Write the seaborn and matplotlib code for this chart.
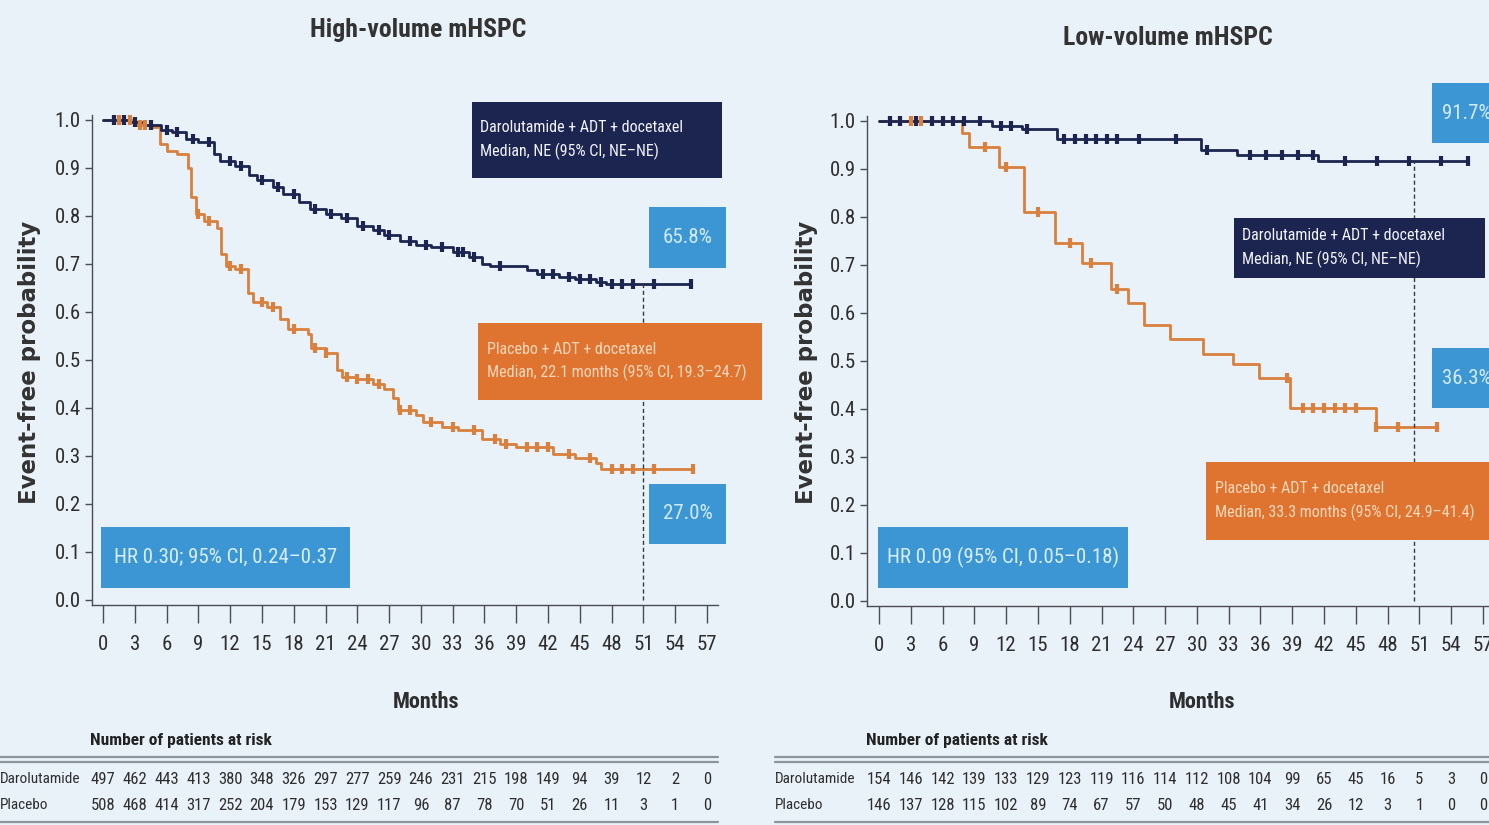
import numpy as np
import pandas as pd
import matplotlib
matplotlib.use("Agg")
import matplotlib.pyplot as plt
import seaborn as sns
from matplotlib import font_manager
from matplotlib.transforms import blended_transform_factory
from matplotlib.patches import Rectangle
from matplotlib.lines import Line2D

# ---------------- data ----------------
month_ticks = list(range(0, 58, 3))
y_ticks = [0.0, 0.1, 0.2, 0.3, 0.4, 0.5, 0.6, 0.7, 0.8, 0.9, 1.0]

panel_titles = ["High-volume mHSPC", "Low-volume mHSPC"]

hv_dar_t = [0, 2.5, 4.0, 5.5, 6.5, 7.8, 9.0, 10.5, 11.0, 12.5, 13.8, 14.5, 16.0, 17.0, 18.5,
            19.5, 21.0, 22.5, 24.0, 25.5, 26.5, 28.0, 29.5, 31.0, 33.0, 34.5, 35.8, 36.5,
            40.0, 41.0, 43.0, 44.5, 46.5, 47.5, 55.5]
hv_dar_s = [1.0, 0.995, 0.99, 0.98, 0.975, 0.96, 0.955, 0.93, 0.915, 0.905, 0.885, 0.875, 0.86,
            0.845, 0.83, 0.815, 0.805, 0.795, 0.78, 0.77, 0.76, 0.748, 0.74, 0.735, 0.725, 0.715,
            0.70, 0.695, 0.688, 0.68, 0.672, 0.668, 0.662, 0.658, 0.658]
hv_dar_cens = [1, 2, 3, 4.5, 6, 7, 8.5, 10, 12, 13, 15, 16.5, 18, 20, 21.5, 23, 24.5, 26, 27, 29,
               30.5, 32, 33.5, 34, 35, 37.5, 41.5, 42.5, 44, 45, 46, 47, 48, 49, 50, 52, 55.5]

hv_pbo_t = [0, 3.0, 4.5, 5.4, 6.0, 7.0, 8.0, 8.3, 8.8, 9.5, 10.8, 11.1, 11.6, 12.5, 13.7, 14.2,
            15.5, 16.7, 17.5, 19.3, 19.6, 21.0, 22.1, 22.6, 24.0, 25.5, 26.5, 27.4, 27.8, 29.5,
            30.2, 32.0, 33.5, 35.8, 37.5, 39.0, 42.5, 44.5, 46.5, 47.0, 55.7]
hv_pbo_s = [1.0, 0.99, 0.985, 0.95, 0.935, 0.93, 0.90, 0.84, 0.805, 0.79, 0.775, 0.72, 0.695,
            0.69, 0.64, 0.62, 0.61, 0.585, 0.565, 0.555, 0.525, 0.515, 0.48, 0.465, 0.46, 0.45,
            0.44, 0.42, 0.395, 0.385, 0.37, 0.36, 0.355, 0.335, 0.325, 0.318, 0.305, 0.295,
            0.285, 0.272, 0.272]
hv_pbo_cens = [1, 1.5, 2, 2.5, 3.5, 4, 9, 10, 12, 13, 15, 16, 18, 20, 21, 23, 24, 25, 26, 28, 29,
               31, 33, 35, 37, 38, 40, 41, 42, 44, 46, 48, 49, 50, 52, 55.7]

lv_dar_t = [0, 10.7, 13.5, 16.8, 30.4, 33.8, 41.4, 55.6]
lv_dar_s = [1.0, 0.99, 0.983, 0.962, 0.94, 0.93, 0.917, 0.917]
lv_dar_cens = [1, 2, 3.5, 5, 6, 7, 8, 9.5, 11.5, 12.5, 14, 17.5, 18.5, 19.5, 20.5, 21.5, 22.5,
               24.5, 28, 31, 35, 36.5, 38, 39.5, 41, 44, 47, 50, 53, 55.6]

lv_pbo_t = [0, 7.8, 8.5, 11.3, 13.7, 16.6, 19.2, 21.9, 23.5, 25.0, 27.5, 30.6, 33.4, 35.9,
            38.8, 46.9, 52.7]
lv_pbo_s = [1.0, 0.975, 0.945, 0.905, 0.81, 0.745, 0.705, 0.65, 0.62, 0.575, 0.545, 0.514,
            0.493, 0.465, 0.403, 0.363, 0.363]
lv_pbo_cens = [1, 2, 3, 4, 5, 6, 7, 10, 12, 15, 18, 20, 22.5, 38.5, 40, 41, 42, 43, 44, 45,
               46.9, 49, 52.7]

landmark_month = [51, 50.5]

hv_risk_dar = [497, 462, 443, 413, 380, 348, 326, 297, 277, 259, 246, 231, 215, 198, 149, 94, 39, 12, 2, 0]
hv_risk_pbo = [508, 468, 414, 317, 252, 204, 179, 153, 129, 117, 96, 87, 78, 70, 51, 26, 11, 3, 1, 0]
lv_risk_dar = [154, 146, 142, 139, 133, 129, 123, 119, 116, 114, 112, 108, 104, 99, 65, 45, 16, 5, 3, 0]
lv_risk_pbo = [146, 137, 128, 115, 102, 89, 74, 67, 57, 50, 48, 45, 41, 34, 26, 12, 3, 1, 0, 0]
risk_rows = ["Darolutamide", "Placebo"]

dar_label = "Darolutamide + ADT + docetaxel\nMedian, NE (95% CI, NE\u2013NE)"
hv_pbo_label = "Placebo + ADT + docetaxel\nMedian, 22.1 months (95% CI, 19.3\u201324.7)"
lv_pbo_label = "Placebo + ADT + docetaxel\nMedian, 33.3 months (95% CI, 24.9\u201341.4)"
hv_hr = "HR 0.30; 95% CI, 0.24\u20130.37"
lv_hr = "HR 0.09 (95% CI, 0.05\u20130.18)"
hv_pct = ["65.8%", "27.0%"]
lv_pct = ["91.7%", "36.3%"]

# ---------------- style ----------------
BG = "#e9f1f9"
NAVY = "#1c2550"
ORANGE_LINE = "#d9803c"
ORANGE_BOX = "#df7430"
LBLUE = "#3b96d3"
AXC = "#4a4d52"
TXT = "#2e2e2e"

sns.set_theme(style="white")

avail = {f.name for f in font_manager.fontManager.ttflist}
narrow_fams = [n for n in ["Roboto Condensed", "Liberation Sans Narrow", "Open Sans Condensed",
                           "Noto Sans Condensed", "DejaVu Sans Condensed"] if n in avail]
if narrow_fams:
    FAM = [narrow_fams[0], "DejaVu Sans"]
    K = 1.0
else:
    FAM = ["Liberation Sans", "DejaVu Sans"]
    K = 0.82
plt.rcParams["font.family"] = FAM

W, H = 1489, 825
fig = plt.figure(figsize=(W / 100, H / 100), dpi=100, facecolor=BG)


def fx(px):
    return px / W


def fy(py):
    return 1 - py / H


def make_axes(left_px, right_px, top_px, bottom_px):
    ax = fig.add_axes([fx(left_px), fy(bottom_px), (right_px - left_px) / W, (bottom_px - top_px) / H])
    ax.set_facecolor(BG)
    return ax


axL = make_axes(92, 718, 115.2, 604.8)
axL.set_xlim(-1.04, 58.04)
axL.set_ylim(-0.01, 1.01)
axR = make_axes(867, 1494, 116.2, 605.8)
axR.set_xlim(-1.13, 58.04)
axR.set_ylim(-0.01, 1.01)


def draw_km(ax, t, s, cens, color):
    df = pd.DataFrame({"Months": t, "Prob": s})
    sns.lineplot(data=df, x="Months", y="Prob", drawstyle="steps-post", color=color,
                 linewidth=2.0, estimator=None, sort=False, ax=ax)
    t_arr = np.asarray(t)
    s_arr = np.asarray(s)
    c = np.asarray(cens, dtype=float)
    cy = s_arr[np.searchsorted(t_arr, c, side="right") - 1]
    sns.scatterplot(x=c, y=cy, marker="|", s=50, linewidth=3.0, color=color, ax=ax, zorder=4)


def step_value(t, s, at):
    return np.asarray(s)[np.searchsorted(t, at, side="right") - 1]


def box(ax, x0, x1, y0, y1, color, text, tcolor, size, ha="center", pad_x=0.0, lsp=1.55):
    ax.add_patch(Rectangle((x0, y0), x1 - x0, y1 - y0, facecolor=color, edgecolor="none",
                           clip_on=False, zorder=5))
    tx = (x0 + x1) / 2 if ha == "center" else x0 + pad_x
    ax.text(tx, (y0 + y1) / 2, text, ha=ha, va="center", color=tcolor, fontsize=size * K,
            zorder=6, clip_on=False, linespacing=lsp)


for ax, title, tx, ty in [(axL, panel_titles[0], 418, 30), (axR, panel_titles[1], 1168, 38)]:
    for sp in ["top", "right"]:
        ax.spines[sp].set_visible(False)
    for sp in ["left", "bottom"]:
        ax.spines[sp].set_color(AXC)
        ax.spines[sp].set_linewidth(1.0)
    ax.set_xticks(month_ticks)
    ax.set_xticklabels([str(m) for m in month_ticks])
    ax.set_yticks(y_ticks)
    ax.set_yticklabels([f"{v:.1f}" for v in y_ticks])
    ax.tick_params(axis="x", direction="out", length=13, width=1.0, color=AXC, pad=9,
                   labelsize=15 * K, labelcolor=TXT, bottom=True)
    ax.tick_params(axis="y", direction="out", length=5, width=1.0, color=AXC, pad=3,
                   labelsize=15 * K, labelcolor=TXT, left=True)
    fig.text(fx(tx), fy(ty), title, ha="center", va="center", fontsize=18.5 * K,
             fontweight="bold", color="#333333")

for px in (30, 806):
    fig.text(fx(px), fy(362), "Event-free probability", rotation=90, ha="center", va="center",
             fontsize=16.5, fontweight="bold", color="#333333", family="DejaVu Sans")
fig.text(fx(426), fy(702), "Months", ha="center", va="center", fontsize=16 * K, fontweight="bold",
         color=TXT)
fig.text(fx(1202), fy(702), "Months", ha="center", va="center", fontsize=16 * K, fontweight="bold",
         color=TXT)

draw_km(axL, hv_pbo_t, hv_pbo_s, hv_pbo_cens, ORANGE_LINE)
draw_km(axL, hv_dar_t, hv_dar_s, hv_dar_cens, NAVY)
draw_km(axR, lv_pbo_t, lv_pbo_s, lv_pbo_cens, ORANGE_LINE)
draw_km(axR, lv_dar_t, lv_dar_s, lv_dar_cens, NAVY)
for ax in (axL, axR):
    ax.set_xlabel("")
    ax.set_ylabel("")

hv_top = step_value(hv_dar_t, hv_dar_s, landmark_month[0])
lv_top = step_value(lv_dar_t, lv_dar_s, landmark_month[1])
axL.plot([landmark_month[0], landmark_month[0]], [0, hv_top], ls=(0, (3, 2)), color="#3a3a3a",
         lw=1.0, zorder=3)
axR.plot([landmark_month[1], landmark_month[1]], [0, lv_top], ls=(0, (3, 2)), color="#3a3a3a",
         lw=1.0, zorder=3)

box(axL, 34.8, 58.4, 0.879, 1.0375, NAVY, dar_label, "#f2f4fa", 11.5, ha="left", pad_x=0.75)
box(axL, 51.5, 58.8, 0.692, 0.819, LBLUE, hv_pct[0], "#d3ebf9", 15)
box(axL, 35.4, 62.2, 0.417, 0.577, ORANGE_BOX, hv_pbo_label, "#fbd7bb", 11.5, ha="left", pad_x=0.85)
box(axL, 51.5, 58.8, 0.117, 0.242, LBLUE, hv_pct[1], "#d3ebf9", 15)
box(axL, -0.2, 23.3, 0.025, 0.152, LBLUE, hv_hr, "#d8eefa", 15)

box(axR, 52.2, 60.0, 0.954, 1.079, LBLUE, lv_pct[0], "#d3ebf9", 15, ha="left", pad_x=0.9)
box(axR, 33.5, 57.2, 0.673, 0.798, NAVY, dar_label, "#f2f4fa", 11.5, ha="left", pad_x=0.75)
box(axR, 52.2, 60.0, 0.402, 0.527, LBLUE, lv_pct[1], "#d3ebf9", 15, ha="left", pad_x=0.9)
box(axR, 30.9, 60.0, 0.127, 0.29, ORANGE_BOX, lv_pbo_label, "#fbd7bb", 11.5, ha="left", pad_x=0.8)
box(axR, -0.1, 23.5, 0.027, 0.154, LBLUE, lv_hr, "#d8eefa", 15)

for ax, rd, rp, lx, hx, x_end in [(axL, hv_risk_dar, hv_risk_pbo, 0, 90, 718),
                                  (axR, lv_risk_dar, lv_risk_pbo, 775, 866, 1489)]:
    fig.text(fx(hx), fy(740), "Number of patients at risk", ha="left", va="center",
             fontsize=12.5 * K, fontweight="bold", color="#222222")
    for yy in (757, 762):
        fig.add_artist(Line2D([fx(lx), fx(x_end)], [fy(yy), fy(yy)], color="#8d939b", lw=1.6))
    fig.add_artist(Line2D([fx(lx), fx(x_end)], [fy(822), fy(822)], color="#8d939b", lw=1.6))
    fig.text(fx(lx), fy(779), risk_rows[0], ha="left", va="center", fontsize=11 * K, color=TXT)
    fig.text(fx(lx), fy(805), risk_rows[1], ha="left", va="center", fontsize=11 * K, color=TXT)
    tr = blended_transform_factory(ax.transData, fig.transFigure)
    for m, a, b in zip(month_ticks, rd, rp):
        ax.text(m, fy(779), str(a), transform=tr, ha="center", va="center", fontsize=12 * K,
                color=TXT, clip_on=False)
        ax.text(m, fy(805), str(b), transform=tr, ha="center", va="center", fontsize=12 * K,
                color=TXT, clip_on=False)

fig.savefig("out.png", dpi=100, facecolor=BG)
